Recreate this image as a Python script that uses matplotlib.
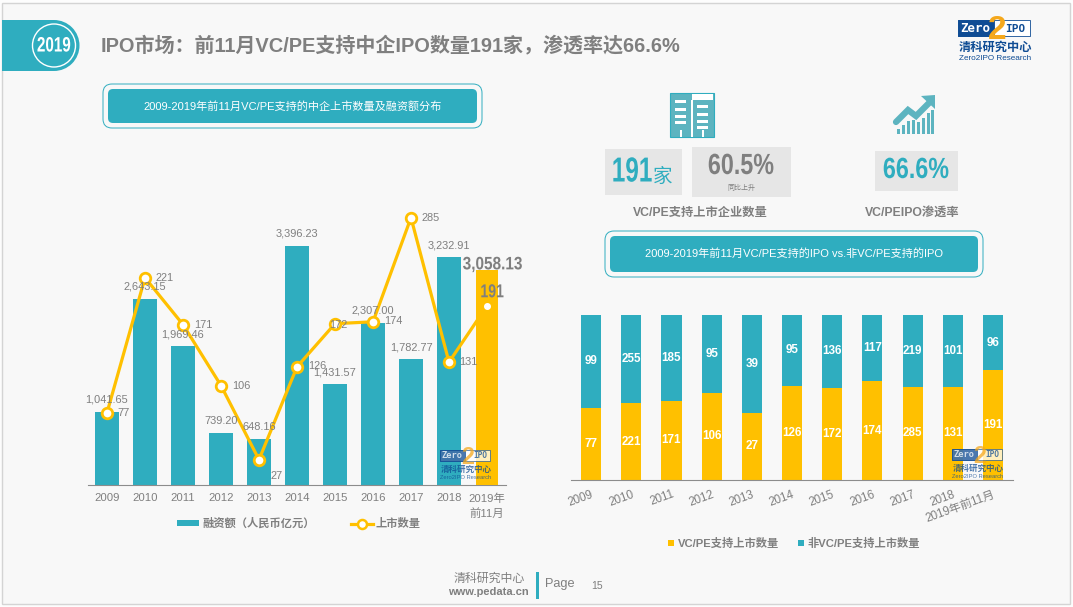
import matplotlib
matplotlib.use("Agg")
import matplotlib.pyplot as plt
import matplotlib.patheffects as pe
from matplotlib.patches import Rectangle, FancyBboxPatch, Circle, Polygon, Patch
from matplotlib.lines import Line2D
from matplotlib.transforms import Affine2D

plt.rcParams['font.family'] = ['Liberation Sans', 'Noto Sans CJK SC', 'DejaVu Sans']

years = ["2009", "2010", "2011", "2012", "2013", "2014", "2015", "2016", "2017", "2018"]
left_last_label = "2019年\n前11月"
right_last_label = "2019年前11月"
funding = [1041.65, 2643.15, 1969.46, 739.20, 648.16, 3396.23, 1431.57, 2307.00, 1782.77, 3232.91, 3058.13]
ipo_count = [77, 221, 171, 106, 27, 126, 172, 174, 285, 131, 191]
non_vc_count = [99, 255, 185, 95, 39, 95, 136, 117, 219, 101, 96]

TEAL = "#2FADBF"
YELLOW = "#FFC000"
GREY = "#7F7F7F"
BG = "#F8F8F8"
BLUE = "#0F4C94"

W, H = 1073, 607


class Squeeze(pe.AbstractPathEffect):
    # the big numbers are in a condensed face that is not installed
    def __init__(self, sx):
        super().__init__()
        self.sx = sx

    def draw_path(self, renderer, gc, tpath, affine, rgbFace=None):
        ext = tpath.get_extents()
        cx = (ext.x0 + ext.x1) / 2
        squeezed = Affine2D().translate(-cx, 0).scale(self.sx, 1).translate(cx, 0) + affine
        renderer.draw_path(gc, tpath, squeezed, rgbFace)


def px_axes(x0, y_base, w, h):
    # axes placed by screen pixels, y_base is the baseline from the top
    a = fig.add_axes([x0 / W, 1 - y_base / H, w / W, h / H])
    a.patch.set_visible(False)
    return a


def draw_logo(a, x, y, s, alpha=1.0):
    a.add_patch(Rectangle((x, y), 72 * s, 16 * s, fc="white", ec=BLUE, lw=0.6, alpha=alpha, zorder=5))
    a.add_patch(Rectangle((x, y), 36 * s, 16 * s, fc=BLUE, ec=BLUE, lw=0.6, alpha=alpha, zorder=5))
    a.text(x + 39 * s, y + 10.5 * s, "2", color="#F5A81C", fontsize=24 * s, fontweight="bold",
           ha="center", va="center", alpha=alpha, zorder=6)
    a.text(x + 17 * s, y + 8 * s, "Zero", color="white", fontsize=9 * s, fontweight="bold",
           family="DejaVu Sans Mono", ha="center", va="center", alpha=alpha, zorder=7)
    a.text(x + 57 * s, y + 8.5 * s, "IPO", color=BLUE, fontsize=8 * s, fontweight="bold",
           family="DejaVu Sans Mono", ha="center", va="center", alpha=alpha, zorder=7)
    a.text(x + 37 * s, y + 28 * s, "清科研究中心", color=BLUE, fontsize=8.8 * s, fontweight="bold",
           ha="center", va="center", alpha=alpha, zorder=7)
    a.text(x + 37 * s, y + 39 * s, "Zero2IPO Research", color=BLUE, fontsize=5.9 * s,
           ha="center", va="center", alpha=alpha, zorder=7)


def header_box(a, x0, y0, x1, y1, text):
    a.add_patch(FancyBboxPatch((x0 + 5, y0 + 5), x1 - x0 - 10, y1 - y0 - 10,
                               boxstyle="round,pad=5,rounding_size=9", fc=BG, ec=TEAL, lw=0.7))
    a.add_patch(FancyBboxPatch((x0 + 10, y0 + 10), x1 - x0 - 20, y1 - y0 - 20,
                               boxstyle="round,pad=5,rounding_size=5", fc=TEAL, ec="none"))
    a.text((x0 + x1) / 2, (y0 + y1) / 2, text, color="white", fontsize=8,
           ha="center", va="center")


fig = plt.figure(figsize=(W / 100, H / 100), dpi=100, facecolor="#FDFDFD")

# slide background and everything that is not a chart
bg = fig.add_axes([0, 0, 1, 1], zorder=0)
bg.set_xlim(0, W)
bg.set_ylim(H, 0)
bg.axis("off")
bg.add_patch(Rectangle((2, 3), 1068, 601, fc=BG, ec="#D4D4D4", lw=1))

# year badge
bg.add_patch(Rectangle((2, 20), 52, 51, fc=TEAL, ec="none"))
bg.add_patch(Circle((54, 45.5), 25.5, fc=TEAL, ec="none"))
bg.add_patch(Circle((54, 45.5), 21.5, fc="none", ec="white", lw=1))
bg.text(54, 46, "2019", color="white", fontsize=15, fontweight="bold", ha="center", va="center",
        path_effects=[Squeeze(0.73)])

bg.text(101, 45, "IPO市场：前11月VC/PE支持中企IPO数量191家，渗透率达66.6%", color=GREY,
        fontsize=14.45, fontweight="bold", ha="left", va="center")
draw_logo(bg, 958, 20, 1.0)

header_box(bg, 103, 84, 482, 128, "2009-2019年前11月VC/PE支持的中企上市数量及融资额分布")
header_box(bg, 605, 231, 983, 277, "2009-2019年前11月VC/PE支持的IPO vs.非VC/PE支持的IPO")

# building icon
icon = "#5DB4C0"
bg.add_patch(Rectangle((670, 93), 44, 44, fc=icon, ec=TEAL, lw=0.8))
bg.add_patch(Rectangle((692, 94), 21, 6, fc="white", ec="none"))
bg.add_patch(Rectangle((691, 100), 1.5, 37, fc="white", ec="none"))
for yy in [100, 108, 115, 121]:
    bg.add_patch(Rectangle((675, yy), 11, 2.5, fc="white", ec="none"))
    bg.add_patch(Rectangle((697, yy + 5), 11, 2.5, fc="white", ec="none"))
bg.add_patch(Rectangle((680, 130), 2, 7, fc="white", ec="none"))
bg.add_patch(Rectangle((702, 130), 2, 7, fc="white", ec="none"))

# growth arrow icon
bg.plot([896, 908, 916, 930], [122, 110, 116, 102], color=icon, lw=4.5, solid_capstyle="round", solid_joinstyle="miter")
bg.add_patch(Polygon([[921, 96], [935, 95], [935, 109]], fc=icon, ec="none"))
for xx, top_y in zip([897, 902, 907, 912, 917, 922, 927, 931], [129, 125, 121, 120, 122, 118, 113, 110]):
    bg.add_patch(Rectangle((xx, top_y), 3.2, 134 - top_y, fc=icon, ec="none"))

# numbers under the icons
bg.add_patch(Rectangle((605, 149), 77, 46, fc="#E6E6E6", ec="none"))
bg.add_patch(Rectangle((692, 147), 99, 50, fc="#E6E6E6", ec="none"))
bg.add_patch(Rectangle((875, 151), 83, 40, fc="#E6E6E6", ec="none"))
bg.text(632, 172, "191", color=TEAL, fontsize=25, fontweight="bold", ha="center", va="center",
        path_effects=[Squeeze(0.7)])
bg.text(663, 177, "家", color=TEAL, fontsize=14, ha="center", va="center")
bg.text(741, 166, "60.5%", color=GREY, fontsize=21, fontweight="bold", ha="center", va="center",
        path_effects=[Squeeze(0.8)])
bg.text(741, 188, "同比上升", color=GREY, fontsize=5, ha="center", va="center")
bg.text(916, 170, "66.6%", color=TEAL, fontsize=21, fontweight="bold", ha="center", va="center",
        path_effects=[Squeeze(0.8)])
bg.text(700, 213, "VC/PE支持上市企业数量", color=GREY, fontsize=8.8, fontweight="bold", ha="center", va="center")
bg.text(912, 213, "VC/PEIPO渗透率", color=GREY, fontsize=8.8, fontweight="bold", ha="center", va="center")

# footer
bg.text(489, 579, "清科研究中心", color=GREY, fontsize=8.6, ha="center", va="center")
bg.text(488, 592, "www.pedata.cn", color=GREY, fontsize=8, fontweight="bold", ha="center", va="center")
bg.add_patch(Rectangle((536, 572), 3, 27, fc=TEAL, ec="none"))
bg.text(545, 584, "Page", color=GREY, fontsize=9.2, ha="left", va="center")
bg.text(597, 586, "15", color=GREY, fontsize=7.5, ha="center", va="center")

# left chart
x = list(range(len(funding)))
ax = px_axes(88, 485, 418, 280)
ax.bar(x[:-1], funding[:-1], width=0.63, color=TEAL)
ax.set_xlim(-0.5, 10.5)
ax.set_ylim(0, 280 / 0.0704)
ax.set_yticks([])
ax.set_xticks(x)
ax.set_xticklabels(years + [left_last_label], color=GREY, fontsize=8.2, linespacing=1.45)
ax.tick_params(axis="x", length=0, pad=6)
for s in ["top", "left", "right"]:
    ax.spines[s].set_visible(False)
ax.spines["bottom"].set_color("#8C8C8C")

ax2 = ax.twinx()
ax2.patch.set_visible(False)
ax2.set_ylim(0, 280 / 0.938)
ax2.axis("off")
ax2.plot(x, ipo_count, color=YELLOW, lw=2.3, zorder=2)
ax2.plot(x[:-1], ipo_count[:-1], ls="none", marker="o", ms=7.6, mfc="white", mec=YELLOW, mew=2, zorder=3)

# last bar has to sit on top of the line
ax3 = ax.twinx()
ax3.patch.set_visible(False)
ax3.set_ylim(ax.get_ylim())
ax3.axis("off")
ax3.bar(x[-1], funding[-1], width=0.6, color=YELLOW, zorder=2)
ax3.plot(x[-1], ipo_count[-1], transform=ax2.transData, ls="none", marker="o", ms=4, mfc="white", mec="white", zorder=3)

for i, v in enumerate(funding[:-1]):
    ax3.annotate(f"{v:,.2f}", (x[i], v), xytext=(0, 8.6), textcoords="offset points", color=GREY,
                 fontsize=7.9, ha="center", va="center", zorder=5)
ax3.annotate(f"{funding[-1]:,.2f}", (x[-1], funding[-1]), xytext=(4, 3.5), textcoords="offset points", color=GREY,
             fontsize=13, fontweight="bold", ha="center", va="center", zorder=5,
             path_effects=[Squeeze(0.85)])

# line labels, offsets in pixels from the marker
line_label_dx = [17, 20, 20, 20, 18, 20, 3, 20, 20, 19]
line_label_dy = [0, 0, 0, 0, -16, 1, -1, 1, 0, 0]
for i, v in enumerate(ipo_count[:-1]):
    ax3.annotate(str(v), (x[i], v), xycoords=ax2.transData, xytext=(line_label_dx[i] * 0.72, line_label_dy[i] * 0.72),
                 textcoords="offset points", color=GREY, fontsize=7.9, ha="center", va="center", zorder=5)
ax3.annotate(str(ipo_count[-1]), (x[-1], ipo_count[-1]), xycoords=ax2.transData, xytext=(3.6, 9.4),
             textcoords="offset points", color=GREY, fontsize=13.5, fontweight="bold",
             ha="center", va="center", zorder=5, path_effects=[Squeeze(0.75)])

fig.legend(handles=[Patch(fc=TEAL, ec="none", label="融资额（人民币亿元）"),
                    Line2D([0], [0], color=YELLOW, lw=2.3, marker="o", ms=6.5, mfc="white", mec=YELLOW, mew=1.8, label="上市数量")],
           loc="center", bbox_to_anchor=(299 / W, 1 - 523.5 / H), ncol=2, frameon=False,
           prop={"size": 8.1, "weight": "bold"}, labelcolor=GREY, handlelength=1.95, handleheight=0.5,
           handletextpad=0.27, columnspacing=3.2, borderpad=0, borderaxespad=0)

# right chart, stacked to 100%
totals = [a + b for a, b in zip(ipo_count, non_vc_count)]
vc_share = [a / t for a, t in zip(ipo_count, totals)]
non_vc_share = [b / t for b, t in zip(non_vc_count, totals)]

rx = px_axes(571, 480, 442, 165)
b1 = rx.bar(x, vc_share, width=0.5, color=YELLOW)
b2 = rx.bar(x, non_vc_share, width=0.5, bottom=vc_share, color=TEAL)
rx.bar_label(b1, labels=[str(v) for v in ipo_count], label_type="center", color="white", fontsize=8.4, fontweight="bold")
rx.bar_label(b2, labels=[str(v) for v in non_vc_count], label_type="center", color="white", fontsize=8.4, fontweight="bold")
rx.set_xlim(-0.5, 10.5)
rx.set_ylim(0, 1)
rx.set_yticks([])
rx.set_xticks(x)
rx.set_xticklabels(years + [right_last_label], color=GREY, fontsize=8.4, rotation=20, ha="right", rotation_mode="anchor")
rx.tick_params(axis="x", length=0, pad=6)
for s in ["top", "left", "right"]:
    rx.spines[s].set_visible(False)
rx.spines["bottom"].set_color("#8C8C8C")

fig.legend(handles=[Patch(fc=YELLOW, ec="none", label="VC/PE支持上市数量"),
                    Patch(fc=TEAL, ec="none", label="非VC/PE支持上市数量")],
           loc="center", bbox_to_anchor=(794 / W, 1 - 543.5 / H), ncol=2, frameon=False,
           prop={"size": 8.1, "weight": "bold"}, labelcolor=GREY, handlelength=0.55, handleheight=0.55,
           handletextpad=0.3, columnspacing=1.7, borderpad=0, borderaxespad=0)

# watermarks over the charts
top = fig.add_axes([0, 0, 1, 1], zorder=10)
top.set_xlim(0, W)
top.set_ylim(H, 0)
top.axis("off")
draw_logo(top, 440, 450, 0.7, alpha=0.75)
draw_logo(top, 952, 449, 0.7, alpha=0.75)

fig.savefig("out.png", dpi=100, facecolor=fig.get_facecolor())
